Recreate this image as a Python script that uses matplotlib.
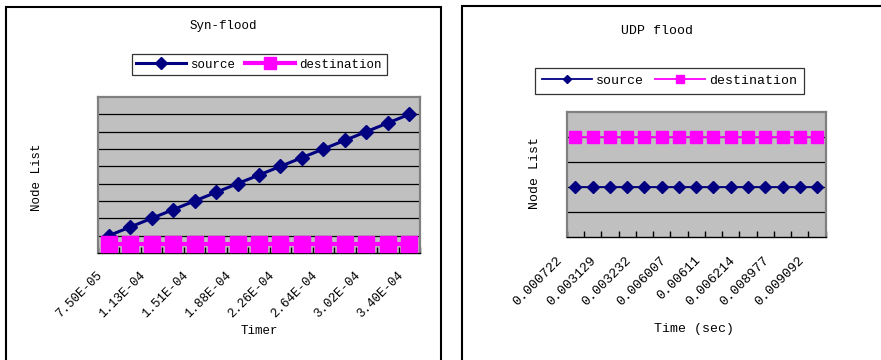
import matplotlib
matplotlib.use("Agg")
import matplotlib.pyplot as plt
from matplotlib.patches import Rectangle
from matplotlib.transforms import ScaledTranslation

plt.rcParams['font.family'] = ['Liberation Mono', 'DejaVu Sans']

# ---- data ----
syn_tick_labels = ["7.50E-05", "1.13E-04", "1.51E-04", "1.88E-04",
                   "2.26E-04", "2.64E-04", "3.02E-04", "3.40E-04"]
syn_source = [1.0, 1.5, 2.0, 2.5, 3.0, 3.5, 4.0, 4.5,
              5.0, 5.5, 6.0, 6.5, 7.0, 7.5, 8.0]
syn_destination = [0.5] * 15

udp_tick_labels = ["0.000722", "0.003129", "0.003232", "0.006007",
                   "0.00611", "0.006214", "0.008977", "0.009092"]
udp_source = [2] * 15
udp_destination = [4] * 15

NAVY = "#000080"
MAGENTA = "#FF00FF"
PLOT_BG = "#C0C0C0"
BORDER = "#808080"

W, H = 881, 360
fig = plt.figure(figsize=(W / 100, H / 100), dpi=100)
fig.patch.set_facecolor("white")


def px_axes(x0, y0, x1, y1):
    return fig.add_axes([x0 / W, 1 - y1 / H, (x1 - x0) / W, (y1 - y0) / H])


# outer chart frames
fig.add_artist(Rectangle((6 / W, -0.1), (440.5 - 6) / W, 1.1 - 7 / H,
                         transform=fig.transFigure, fill=False,
                         edgecolor="black", linewidth=1.5))
fig.add_artist(Rectangle((461.5 / W, -0.1), 0.6, 1.1 - 6 / H,
                         transform=fig.transFigure, fill=False,
                         edgecolor="black", linewidth=1.5))


def style_axes(ax, n, ymax, tick_labels, fs, dx_px, pad_pt):
    ax.set_facecolor(PLOT_BG)
    ax.set_xlim(-0.5, n - 0.5)
    ax.set_ylim(0, ymax)
    for side in ("top", "left", "right"):
        ax.spines[side].set_color(BORDER)
        ax.spines[side].set_linewidth(1.6)
    ax.spines["bottom"].set_color("black")
    ax.spines["bottom"].set_linewidth(1.0)
    ax.set_yticks(range(1, ymax))
    ax.tick_params(axis="y", length=0, labelleft=False)
    ax.yaxis.grid(True, color="black", linewidth=0.9)
    ax.set_axisbelow(True)
    ax.set_xticks(range(0, n, 2))
    ax.set_xticklabels(tick_labels, rotation=45, ha="right", va="center",
                       rotation_mode="anchor", fontsize=fs)
    ax.set_xticks([i - 0.5 for i in range(n + 1)], minor=True)
    ax.tick_params(axis="x", which="major", length=0, pad=pad_pt)
    ax.tick_params(axis="x", which="minor", direction="in", length=4,
                   width=1, color="black")
    off = ScaledTranslation(dx_px / 100, 0, fig.dpi_scale_trans)
    for lab in ax.get_xticklabels():
        lab.set_transform(lab.get_transform() + off)


# ---- Syn-flood ----
ax1 = px_axes(98, 97, 420, 253)
x1 = list(range(len(syn_source)))
style_axes(ax1, len(x1), 9, syn_tick_labels, 9, -8, 14.5)
ax1.plot(x1, syn_source, color=NAVY, linewidth=2.2, marker="D",
         markersize=7.2, label="source", zorder=3)
ax1.plot(x1, syn_destination, color=MAGENTA, linewidth=3, marker="s",
         markersize=11.2, label="destination", zorder=4)
ax1.text(0.388, 1.455, "Syn-flood", transform=ax1.transAxes,
         ha="center", va="center", fontsize=9)
ax1.text(-0.189, 0.487, "Node List", transform=ax1.transAxes,
         ha="center", va="center", rotation=90, fontsize=9)
ax1.text(0.5, -0.5, "Timer", transform=ax1.transAxes,
         ha="center", va="center", fontsize=9)
leg1 = ax1.legend(loc="center", bbox_to_anchor=(0.5, 1.208), ncol=2,
                  fontsize=9, frameon=True, fancybox=False, edgecolor="black",
                  handlelength=4.0, handletextpad=0.35, columnspacing=0.8,
                  borderpad=0.35, borderaxespad=0)
leg1.get_frame().set_linewidth(0.9)
for h, ms in zip(leg1.legend_handles, (6.0, 8.5)):
    h.set_markersize(ms)

# ---- UDP flood ----
ax2 = px_axes(566.7, 111.5, 825.7, 237.3)
x2 = list(range(len(udp_source)))
style_axes(ax2, len(x2), 5, udp_tick_labels, 9.5, -15, 15)
ax2.plot(x2, udp_source, color=NAVY, linewidth=1.3, marker="D",
         markersize=6.2, label="source", zorder=3)
ax2.plot(x2, udp_destination, color=MAGENTA, linewidth=1.3, marker="s",
         markersize=8.6, label="destination", zorder=3)
ax2.text(0.3475, 1.64, "UDP flood", transform=ax2.transAxes,
         ha="center", va="center", fontsize=9.5)
ax2.text(-0.122, 0.511, "Node List", transform=ax2.transAxes,
         ha="center", va="center", rotation=90, fontsize=9.5)
ax2.text(0.4915, -0.729, "Time (sec)", transform=ax2.transAxes,
         ha="center", va="center", fontsize=9.5)
leg2 = ax2.legend(loc="center", bbox_to_anchor=(0.397, 1.2425), ncol=2,
                  fontsize=9.5, frameon=True, fancybox=False, edgecolor="black",
                  handlelength=3.8, handletextpad=0.3, columnspacing=0.8,
                  borderpad=0.55, borderaxespad=0)
leg2.get_frame().set_linewidth(0.9)
for h, ms in zip(leg2.legend_handles, (4.5, 5.5)):
    h.set_markersize(ms)

fig.savefig("out.png", dpi=100, facecolor="white")
